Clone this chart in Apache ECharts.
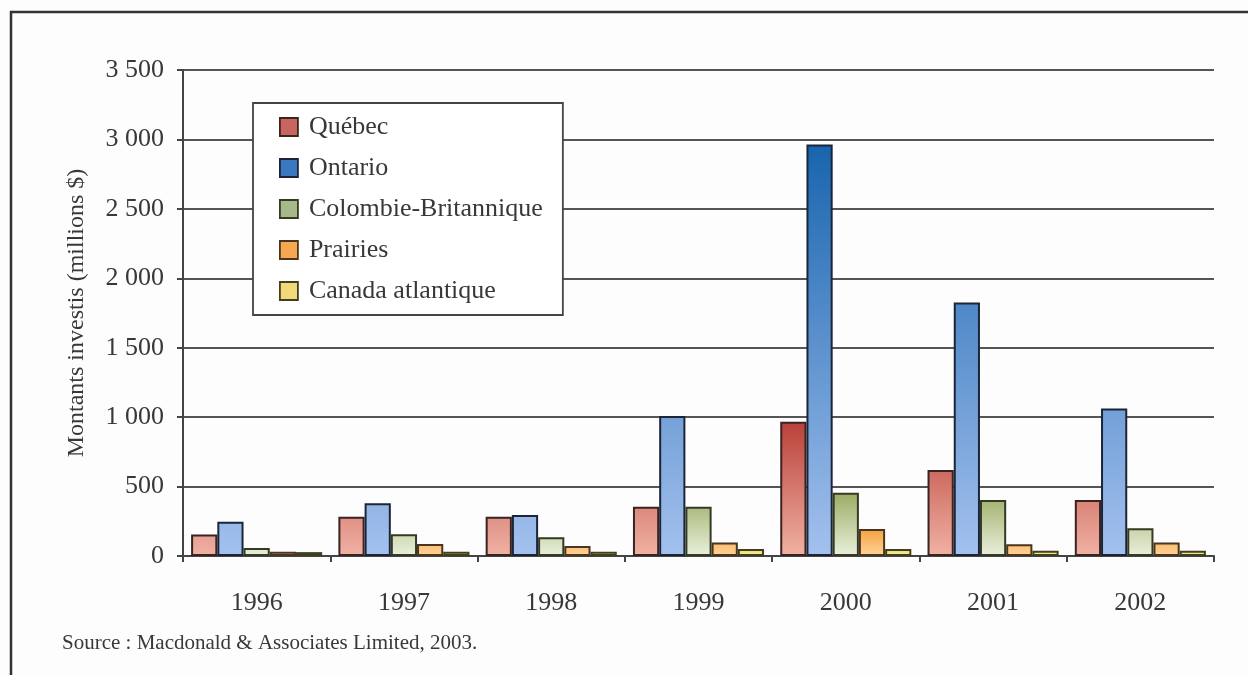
<!DOCTYPE html>
<html>
<head>
<meta charset="utf-8">
<script src="https://cdn.jsdelivr.net/npm/echarts@6/dist/echarts.min.js"></script>
<style>
html,body{margin:0;padding:0;background:#fdfdfd;}
#chart{width:1248px;height:675px;}
</style>
</head>
<body>
<div id="chart"></div>
<script>
const years = ['1996','1997','1998','1999','2000','2001','2002'];
const seriesNames = ['Québec','Ontario','Colombie-Britannique','Prairies','Canada atlantique'];
const quebec   = [155, 283, 283, 355, 967, 619, 403];
const ontario  = [247, 379, 295, 1008, 2963, 1826, 1063];
const colombie = [58, 156, 135, 355, 456, 403, 199];
const prairies = [30, 86, 72, 98, 194, 84, 98];
const atlantic = [28, 31, 31, 50, 50, 38, 38];
const yTicks = [0, 500, 1000, 1500, 2000, 2500, 3000, 3500];

const values = [quebec, ontario, colombie, prairies, atlantic];
const FONT = '"Liberation Serif","DejaVu Serif",serif';

// gradient end points (pixel rows of the plot) and colours
const grad = (yTop, cTop, cBottom) => new echarts.graphic.LinearGradient(0, yTop, 0, 556, [
  {offset: 0, color: cTop}, {offset: 1, color: cBottom}
], true);
const fills = [
  grad(410, '#b5362f', '#f0b2a4'),
  grad(139, '#1663ad', '#a4c1ee'),
  grad(480, '#8a9e4c', '#eaf0dc'),
  grad(525, '#f49a30', '#ffd49a'),
  grad(548, '#eed870', '#f6eaa0')
];
const legendColors = ['#c9645e', '#3a78c0', '#a8b888', '#f5a850', '#f2d878'];
const borders = ['#3a2422', '#1c2538', '#343a24', '#4a3620', '#40401c'];

const fmt = v => v >= 1000 ? Math.floor(v / 1000) + ' ' + String(v % 1000).padStart(3, '0') : String(v);

const chart = echarts.init(document.getElementById('chart'), null, {renderer: 'canvas'});
chart.setOption({
  backgroundColor: '#fdfdfd',
  animation: false,
  textStyle: {fontFamily: FONT},
  grid: {left: 183, right: 34, top: 70, bottom: 119, containLabel: false},
  legend: {
    orient: 'vertical',
    left: 253, top: 103,
    padding: [11, 20, 11, 26],
    itemGap: 15,
    itemWidth: 18, itemHeight: 18,
    backgroundColor: '#ffffff',
    borderColor: '#444',
    borderWidth: 1.8,
    borderRadius: 0,
    icon: 'rect',
    textStyle: {fontFamily: FONT, fontSize: 26, color: '#383838', padding: [0, 0, 0, 6], lineHeight: 26},
    data: seriesNames.map((n, i) => ({name: n, itemStyle: {color: legendColors[i], borderColor: borders[i], borderWidth: 1.8}}))
  },
  xAxis: {
    type: 'category',
    data: years,
    axisLine: {lineStyle: {color: '#444', width: 2}},
    axisTick: {show: true, length: 6, lineStyle: {color: '#444', width: 2}},
    axisLabel: {fontFamily: FONT, fontSize: 26, color: '#383838', margin: 34}
  },
  yAxis: {
    type: 'value',
    min: yTicks[0], max: yTicks[yTicks.length - 1], interval: yTicks[1] - yTicks[0],
    name: 'Montants investis (millions $)',
    nameLocation: 'middle',
    nameGap: 94,
    nameTextStyle: {fontFamily: FONT, fontSize: 24, color: '#383838'},
    axisLine: {show: true, lineStyle: {color: '#444', width: 2}},
    axisTick: {show: true, length: 6, lineStyle: {color: '#444', width: 2}},
    axisLabel: {fontFamily: FONT, fontSize: 26, color: '#383838', margin: 19, formatter: fmt},
    splitLine: {show: true, lineStyle: {color: '#555', width: 1.8}}
  },
  series: seriesNames.map((n, i) => ({
    name: n,
    type: 'bar',
    data: values[i],
    barGap: '0%',
    barCategoryGap: '11%',
    itemStyle: {color: fills[i], borderColor: borders[i], borderWidth: 2},
    z: 3
  })),
  graphic: [
    {type: 'line', shape: {x1: 10, y1: 12, x2: 1248, y2: 12}, style: {stroke: '#333', lineWidth: 2.5}, silent: true},
    {type: 'line', shape: {x1: 11, y1: 11, x2: 11, y2: 675}, style: {stroke: '#333', lineWidth: 2.5}, silent: true},
    {type: 'text', left: 62, top: 633, style: {text: 'Source : Macdonald & Associates Limited, 2003.', font: '21px ' + FONT, fill: '#383838'}, silent: true}
  ]
});
</script>
</body>
</html>
